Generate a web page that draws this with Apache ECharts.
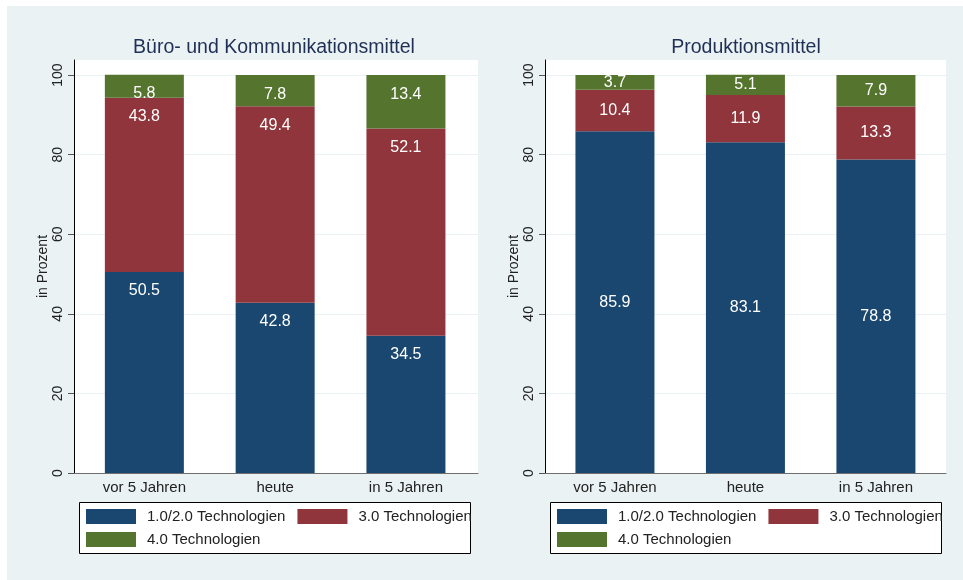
<!DOCTYPE html>
<html>
<head>
<meta charset="utf-8">
<script src="https://cdn.jsdelivr.net/npm/echarts@6/dist/echarts.min.js"></script>
<style>
  html, body { margin: 0; padding: 0; background: #fff; }
  #chart { position: absolute; left: 7px; top: 6px; width: 956px; height: 574px; }
</style>
</head>
<body>
<div id="chart"></div>
<script>
// categories / legend names
let categories = ['vor 5 Jahren', 'heute', 'in 5 Jahren'];
let techNames = ['1.0/2.0 Technologien', '3.0 Technologien', '4.0 Technologien'];
let yTicks = [0, 20, 40, 60, 80, 100];

// Büro- und Kommunikationsmittel (in Prozent)
let bueroTech12 = [50.5, 42.8, 34.5];
let bueroTech30 = [43.8, 49.4, 52.1];
let bueroTech40 = [5.8, 7.8, 13.4];

// Produktionsmittel (in Prozent)
let prodTech12 = [85.9, 83.1, 78.8];
let prodTech30 = [10.4, 11.9, 13.3];
let prodTech40 = [3.7, 5.1, 7.9];

let colors = ['#1a476f', '#90353b', '#55752f'];
let fontFam = '"Liberation Sans", Arial, sans-serif';

/**面板设置 */
let panels = [
  { title: 'Büro- und Kommunikationsmittel', titleX: 267, left: 67, width: 404, xMin: 0.462, xMax: 3.551,
    data: [bueroTech12, bueroTech30, bueroTech40], labelPos: 'insideTop', legendLeft: 79, boxLeft: 72 },
  { title: 'Produktionsmittel', titleX: 739, left: 538, width: 401, xMin: 0.464, xMax: 3.537,
    data: [prodTech12, prodTech30, prodTech40], labelPos: 'inside', legendLeft: 550, boxLeft: 543 }
];

let chart = echarts.init(document.getElementById('chart'));

let option = {
  backgroundColor: '#eaf2f3',
  animation: false,
  textStyle: { fontFamily: fontFam },
  title: panels.map(p => ({
    text: p.title,
    left: p.titleX,
    top: 32,
    padding: 0,
    textAlign: 'center',
    textStyle: { color: '#1f2f55', fontSize: 19.5, fontWeight: 'normal', fontFamily: fontFam }
  })),
  grid: panels.map(p => ({
    left: p.left, top: 54, width: p.width, height: 413,
    show: true, backgroundColor: '#fff', borderWidth: 0
  })),
  xAxis: panels.map((p, i) => ({
    type: 'value',
    gridIndex: i,
    min: p.xMin,
    max: p.xMax,
    axisLine: { show: true, lineStyle: { color: '#6e6e6e', width: 1 } },
    axisTick: { show: false },
    splitLine: { show: false },
    axisLabel: {
      customValues: [1, 2, 3],
      formatter: v => categories[Math.round(v) - 1] || '',
      color: '#222', fontSize: 15, margin: 7, fontFamily: fontFam
    }
  })),
  yAxis: panels.map((p, i) => ({
    type: 'value',
    gridIndex: i,
    min: 0,
    max: 103.8,
    interval: 20,
    name: 'in Prozent',
    nameLocation: 'middle',
    nameGap: 17,
    nameTextStyle: { color: '#222', fontSize: 14, fontFamily: fontFam },
    axisLine: { show: true, lineStyle: { color: '#000', width: 1 } },
    axisTick: { show: true, length: 6, customValues: yTicks, lineStyle: { color: '#555' } },
    splitLine: { show: true, lineStyle: { color: '#eaf2f3', width: 1 } },
    axisLabel: {
      customValues: yTicks,
      rotate: 90,
      margin: 9,
      color: '#222', fontSize: 14, fontFamily: fontFam
    }
  })),
  legend: panels.map(p => ({
    data: techNames,
    left: p.legendLeft,
    top: 503,
    width: 400,
    padding: 0,
    itemWidth: 50,
    itemHeight: 15,
    itemGap: 8,
    icon: 'rect',
    selectedMode: false,
    textStyle: { color: '#222', fontSize: 15, lineHeight: 15, padding: [0, 4, 0, 6], fontFamily: fontFam }
  })),
  graphic: panels.map(p => ({
    type: 'rect',
    z: 1,
    shape: { x: p.boxLeft + 0.5, y: 496.5, width: 391, height: 51 },
    style: { fill: '#fff', stroke: '#000', lineWidth: 1 }
  })),
  series: []
};

// 值放第0维，使堆叠作用在 y 上
panels.forEach((p, pi) => {
  p.data.forEach((vals, si) => {
    option.series.push({
      name: techNames[si],
      type: 'bar',
      xAxisIndex: pi,
      yAxisIndex: pi,
      stack: 'panel' + pi,
      barWidth: 79,
      encode: { x: 1, y: 0 },
      itemStyle: { color: colors[si] },
      label: {
        show: true,
        position: p.labelPos,
        distance: 11,
        color: '#fff',
        fontSize: 16,
        fontFamily: fontFam,
        formatter: d => d.value[0].toFixed(1)
      },
      data: vals.map((v, ci) => [v, ci + 1])
    });
  });
});

chart.setOption(option);
</script>
</body>
</html>
